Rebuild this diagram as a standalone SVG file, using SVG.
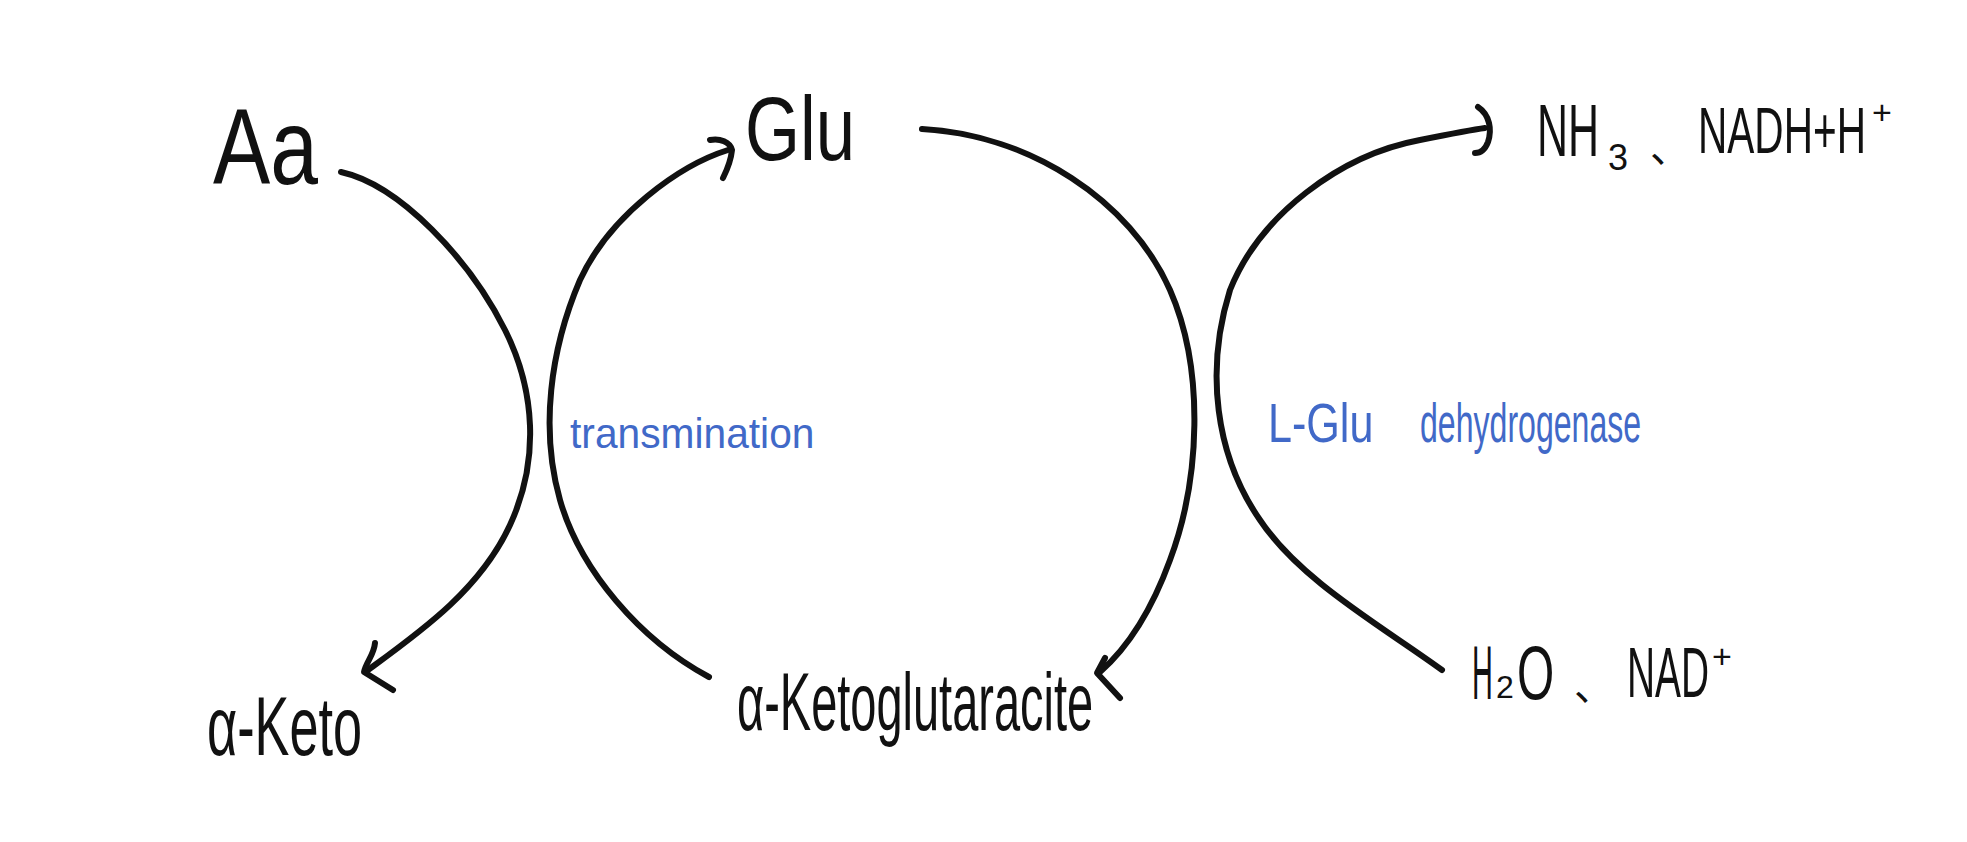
<svg xmlns="http://www.w3.org/2000/svg" width="1967" height="842" viewBox="0 0 1967 842">
<style>
.t{font-family:"Liberation Sans","Noto Sans CJK SC",sans-serif;fill:#111}
.b{font-family:"Liberation Sans",sans-serif;fill:#4169c8}
.c{fill:none;stroke:#111;stroke-width:6;stroke-linecap:round;stroke-linejoin:round}
</style>
<rect width="1967" height="842" fill="#fff"/>
<g id="node-aa"><text class="t" transform="translate(213,184) scale(0.795,1)" font-size="108">Aa</text></g>
<g id="node-glu"><text class="t" transform="translate(745,160) scale(0.786,1)" font-size="90">Glu</text></g>
<g id="node-nh3">
<text class="t" transform="translate(1537,156) scale(0.58,1)" font-size="74">NH</text>
<text class="t" x="1608" y="170" font-size="36">3</text>
<text class="t" x="1650" y="162" font-size="40">、</text>
<text class="t" transform="translate(1698,153) scale(0.634,1)" font-size="64">NADH+H</text>
<text class="t" x="1872" y="124" font-size="34">+</text>
</g>
<g id="node-aketo"><text class="t" transform="translate(207,755) scale(0.622,1)" font-size="84">α-Keto</text></g>
<g id="node-akg"><text class="t" transform="translate(737,730) scale(0.573,1)" font-size="82">α-Ketoglutaracite</text></g>
<g id="node-h2o">
<text class="t" transform="translate(1472,699) scale(0.38,1)" font-size="76">H</text>
<text class="t" x="1496" y="698" font-size="32">2</text>
<text class="t" transform="translate(1517,699) scale(0.63,1)" font-size="76">O</text>
<text class="t" x="1574" y="700" font-size="40">、</text>
<text class="t" transform="translate(1627,697) scale(0.555,1)" font-size="70">NAD</text>
<text class="t" x="1712" y="668" font-size="34">+</text>
</g>
<g id="label-trans"><text class="b" transform="translate(570,448) scale(0.97,1)" font-size="42">transmination</text></g>
<g id="label-gdh">
<text class="b" transform="translate(1268,442) scale(0.77,1)" font-size="56">L-Glu</text>
<text class="b" transform="translate(1420,442) scale(0.573,1)" font-size="56">dehydrogenase</text>
</g>
<g id="connectors">
<path class="c" d="M341,172 C400,185 470,260 505,330 C535,390 540,460 510,525 C480,590 420,632 368,670"/>
<path class="c" d="M375,643 C374,655 366,662 364,672 L393,690"/>
<path class="c" d="M709,677 C640,640 580,570 560,500 C540,430 550,350 580,280 C610,215 680,165 728,150"/>
<path class="c" d="M710,140 C720,138 730,142 732,150 C731,160 727,170 723,178"/>
<path class="c" d="M922,129 C1030,135 1130,200 1170,290 C1205,370 1200,480 1170,560 C1150,615 1125,650 1100,672"/>
<path class="c" d="M1105,658 L1097,673 L1120,698"/>
<path class="c" d="M1442,670 C1380,625 1300,580 1260,520 C1215,455 1205,370 1230,290 C1260,215 1340,155 1420,140 C1445,135 1470,130 1485,128"/>
<path class="c" d="M1478,107 C1490,115 1492,130 1488,142 C1485,150 1480,153 1475,153"/>
</g>
</svg>
